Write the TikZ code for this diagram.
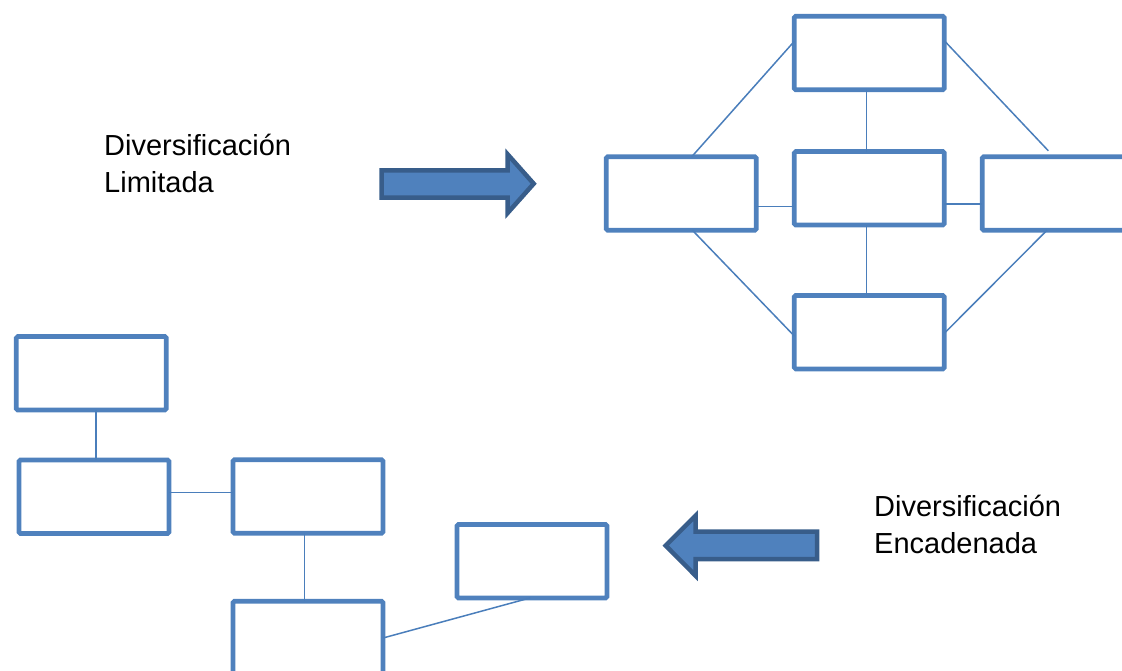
\documentclass[tikz,border=0pt]{standalone}
\usepackage{fontspec}
\setmainfont{Liberation Sans}
\definecolor{boxblue}{HTML}{4F81BD}
\definecolor{linkblue}{HTML}{4A7EBB}
\definecolor{arrowedge}{HTML}{385D8A}
\begin{document}
\begin{tikzpicture}[x=1pt,y=-1pt,
  box/.style={draw=boxblue, line width=4.7pt, rounded corners=1.5pt,
    minimum width=150pt, minimum height=73.5pt, inner sep=0pt, outer sep=0pt},
  link/.style={draw=linkblue, line width=1.5pt},
  bigarrow/.style={fill=boxblue, draw=arrowedge, line width=4.5pt, line join=miter},
  lbl/.style={font=\fontsize{29pt}{36.7pt}\selectfont, anchor=base west, inner sep=0pt}]
\useasboundingbox (0,0) rectangle (1122,671);
\clip (0,0) rectangle (1122,671);

% limited diversification: star of five boxes
\node[box] (T)  at (869.3,53)    {};
\node[box] (M)  at (869.3,188.3) {};
\node[box] (L)  at (681.2,193.5) {};
\node[box] (R)  at (1057.3,193.5) {};
\node[box] (Bt) at (869.3,332.2) {};

\draw[link] ([xshift=-2.6pt]T.south) -- ([xshift=-2.6pt]M.north);
\draw[link] ([xshift=-2.6pt]M.south) -- ([xshift=-2.6pt]Bt.north);
\draw[link] ([yshift=-13.2pt]L.east) -- ([yshift=-18.4pt]M.west);
\draw[link] ([yshift=-15.7pt]M.east) -- ([yshift=-10.5pt]R.west);
\draw[link] ([xshift=10.5pt]L.north) -- ([yshift=11.7pt]T.west);
\coordinate (Rtop) at ([xshift=-9pt,yshift=6pt]R.north);
\draw[link] ([yshift=12.3pt]T.east) -- (Rtop);
\draw[link] ([xshift=11.2pt]L.south) -- ([yshift=-3.8pt]Bt.west);
\draw[link] ([yshift=-1.1pt]Bt.east) -- ([xshift=-10.3pt]R.south);

% chained diversification: boxes linked one after another
\node[box] (A) at (91.3,373.3) {};
\node[box] (B) at (94,496.7)   {};
\node[box] (C) at (308,496.5)  {};
\node[box] (D) at (532,561.2)  {};
\node[box] (E) at (308,638)    {};

\draw[link] ([xshift=4.7pt]A.south) -- ([xshift=2pt]B.north);
\draw[link] ([yshift=4.4pt]B.east) -- ([yshift=4.2pt]C.west);
\draw[link] ([xshift=-3.3pt]C.south) -- ([xshift=-3.3pt]E.north);
\draw[link] (E.east) -- ([xshift=-2pt]D.south);

% block arrows
\draw[bigarrow] (381.6,170.3) -- (507.6,170.3) -- (507.6,154.3) -- (533.7,183.7)
  -- (507.6,213) -- (507.6,197.7) -- (381.6,197.7) -- cycle;
\draw[bigarrow] (817,531.6) -- (695.6,531.6) -- (695.6,515.6) -- (665.7,545.6)
  -- (695.6,575.7) -- (695.6,559) -- (817,559) -- cycle;

% labels
\node[lbl] (l1a) at (104,156)   {Diversificación};
\node[lbl] (l1b) at (104,192.7) {Limitada};
\node[lbl] (l2a) at (874,516)   {Diversificación};
\node[lbl] (l2b) at (874,553.3) {Encadenada};
\end{tikzpicture}
\end{document}
